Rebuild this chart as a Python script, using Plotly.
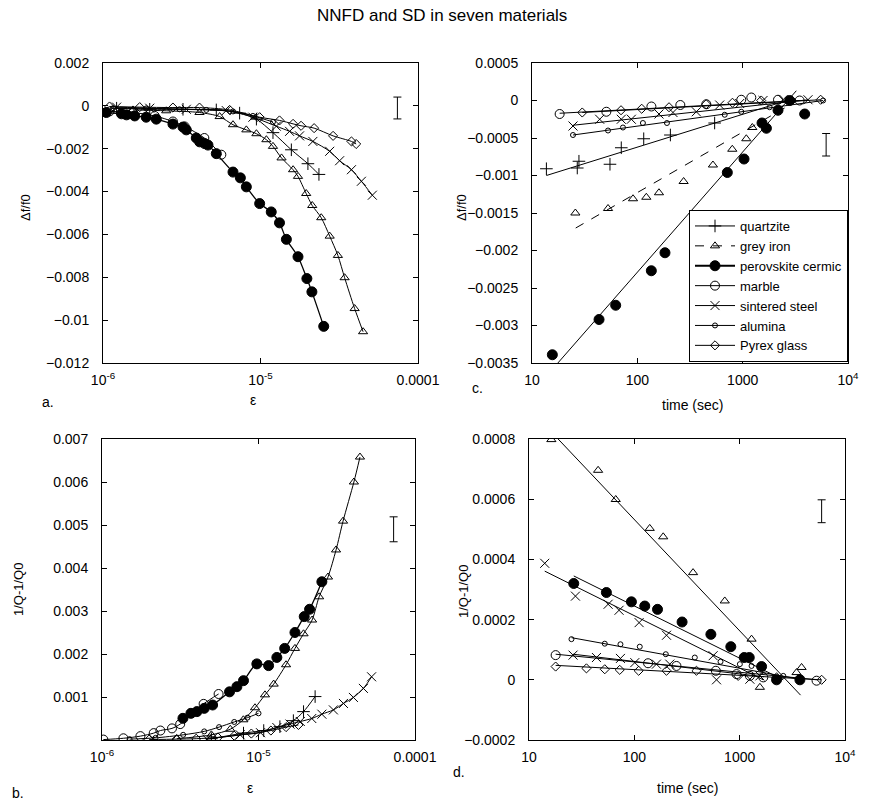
import plotly.graph_objects as go

# ---------------- Panel a : delta f / f0 vs strain ----------------
A_quartzite_eps = [1.22e-6, 1.98e-6, 3.22e-6, 5.24e-6, 7.37e-6, 9.42e-6, 1.2e-5, 1.57e-5, 2.0e-5, 2.35e-5]
A_quartzite_df = [-0.00011, -0.00016, -0.00016, -0.00019, -0.00034, -0.00062, -0.00125, -0.00205, -0.0027, -0.0032]
A_grey_eps = [1.55e-6, 2.52e-6, 4.1e-6, 5.5e-6, 6.69e-6, 8.13e-6, 9.42e-6, 1.09e-5, 1.2e-5, 1.36e-5, 1.61e-5, 1.73e-5,
              1.95e-5, 2.13e-5, 2.43e-5, 2.75e-5, 3.1e-5, 3.42e-5, 3.96e-5, 4.48e-5]
A_grey_df = [-0.00019, -0.00023, -0.00031, -0.0005, -0.00088, -0.00112, -0.0013, -0.00158, -0.00189, -0.00243, -0.00298,
             -0.00329, -0.00409, -0.00465, -0.00522, -0.00608, -0.00698, -0.00802, -0.00946, -0.01054]
A_perov_eps = [1.05e-6, 1.31e-6, 1.41e-6, 1.59e-6, 1.88e-6, 2.18e-6, 2.78e-6, 3.22e-6, 3.38e-6, 3.91e-6, 4.11e-6, 4.42e-6,
               4.64e-6, 5.24e-6, 6.69e-6, 7.45e-6, 8.13e-6, 9.88e-6, 1.17e-5, 1.32e-5, 1.46e-5, 1.73e-5, 1.97e-5, 2.12e-5, 2.52e-5]
A_perov_df = [-0.00031, -0.00037, -0.00042, -0.00047, -0.00053, -0.00062, -0.00085, -0.00099, -0.00112, -0.0015, -0.00168,
              -0.00176, -0.00183, -0.00223, -0.00309, -0.00336, -0.00378, -0.00456, -0.00495, -0.00546, -0.00623, -0.00704,
              -0.00806, -0.00868, -0.01029]
A_marble_eps = [1.1e-6, 1.55e-6, 2.13e-6, 2.78e-6, 3.3e-6, 4.4e-6, 5.64e-6]
A_marble_df = [-0.00026, -0.00031, -0.00047, -0.00073, -0.00096, -0.0015, -0.00228]
A_steel_eps = [1.22e-6, 1.98e-6, 3.38e-6, 6.06e-6, 8.95e-6, 1.26e-5, 1.53e-5, 1.77e-5, 2.15e-5, 2.75e-5, 3.18e-5, 3.78e-5,
               4.37e-5, 5.13e-5]
A_steel_df = [-0.00006, -0.00011, -0.00016, -0.00022, -0.00053, -0.00095, -0.00119, -0.0014, -0.00166, -0.00212, -0.00256,
              -0.00298, -0.00352, -0.00417]
A_alumina_eps = [1.16e-6, 1.88e-6, 3.06e-6, 4.53e-6, 6.69e-6, 8.95e-6, 1.2e-5]
A_alumina_df = [-0.00011, -0.00012, -0.00016, -0.00019, -0.00026, -0.00047, -0.00075]
A_pyrex_eps = [1.1e-6, 1.71e-6, 2.78e-6, 4.1e-6, 6.37e-6, 9.88e-6, 1.32e-5, 1.61e-5, 1.81e-5, 2.19e-5, 2.89e-5, 3.78e-5, 4.05e-5]
A_pyrex_df = [-0.00003, -0.00006, -0.00008, -0.00008, -0.00019, -0.00053, -0.00068, -0.00084, -0.00093, -0.00104, -0.0014,
              -0.00166, -0.00178]

# ---------------- Panel b : 1/Q - 1/Q0 vs strain ----------------
B_quartzite_eps = [5e-6, 8.02e-6, 1.08e-5, 1.37e-5, 1.67e-5, 1.94e-5, 2.3e-5]
B_quartzite_q = [0.00003, 0.00016, 0.00022, 0.00031, 0.00045, 0.00066, 0.00101]
B_grey_eps = [3.0e-6, 5.0e-6, 6.6e-6, 8.0e-6, 9.5e-6, 1.1e-5, 1.25e-5, 1.5e-5, 1.71e-5, 1.94e-5, 2.2e-5, 2.44e-5, 2.78e-5,
              3.13e-5, 3.47e-5, 4.07e-5, 4.45e-5]
B_grey_q = [0.00003, 0.00012, 0.00025, 0.00047, 0.00075, 0.00105, 0.0013, 0.00175, 0.00213, 0.00247, 0.00279, 0.00333,
            0.00379, 0.00442, 0.00509, 0.006, 0.00658]
B_perov_eps = [3.29e-6, 3.7e-6, 4.04e-6, 4.5e-6, 5.09e-6, 6.53e-6, 7.28e-6, 8.02e-6, 9.76e-6, 1.16e-5, 1.31e-5, 1.47e-5,
               1.71e-5, 1.96e-5, 2.12e-5, 2.54e-5]
B_perov_q = [0.000504, 0.00062, 0.00066, 0.000736, 0.000814, 0.00112, 0.00124, 0.00138, 0.00177, 0.00173, 0.00192, 0.00213,
             0.0025, 0.00287, 0.00304, 0.00368]
B_marble_eps = [1.02e-6, 1.37e-6, 1.76e-6, 2.14e-6, 2.36e-6, 2.8e-6, 3.16e-6, 4.46e-6, 5.56e-6]
B_marble_q = [0.00001, 0.00004, 0.00009, 0.00016, 0.00022, 0.00027, 0.00037, 0.00084, 0.00107]
B_steel_eps = [4.68e-6, 7.64e-6, 1.03e-5, 1.31e-5, 1.59e-5, 1.85e-5, 2.19e-5, 2.54e-5, 3.01e-5, 3.49e-5, 4.04e-5, 4.68e-5, 5.28e-5]
B_steel_q = [0.00002, 0.00012, 0.00017, 0.00029, 0.00037, 0.00043, 0.0005, 0.0006, 0.0007, 0.00085, 0.00099, 0.0012, 0.00147]
B_alumina_eps = [1.5e-6, 2.2e-6, 3.3e-6, 4.5e-6, 5.6e-6, 7e-6, 8.5e-6, 1.0e-5]
B_alumina_q = [0.00002, 0.00005, 0.00012, 0.0002, 0.0003, 0.00042, 0.00052, 0.00062]
B_pyrex_eps = [2e-6, 3e-6, 4e-6, 5.5e-6, 7e-6, 9e-6, 1.2e-5, 1.5e-5, 1.8e-5]
B_pyrex_q = [0.00001, 0.00002, 0.00003, 0.00006, 0.0001, 0.00015, 0.00022, 0.0003, 0.00035]

# ---------------- Panel c : delta f / f0 vs time ----------------
C_quartzite_t = [13.7, 26.9, 27.9, 55, 70.4, 115, 206, 542]
C_quartzite_df = [-0.00091, -0.0009, -0.00081, -0.00085, -0.00063, -0.00051, -0.00046, -0.0003]
C_quartzite_fit_t = [13.7, 2250]
C_quartzite_fit_df = [-0.001, -0.00003]
C_grey_t = [25.8, 52.7, 91, 121.7, 160.5, 275, 522, 797, 1083, 1235]
C_grey_df = [-0.0015, -0.00144, -0.00131, -0.00129, -0.00123, -0.00108, -0.00086, -0.00065, -0.00051, -0.00036]
C_grey_fit_t = [26, 2500]
C_grey_fit_df = [-0.0017, -0.0001]
C_perov_t = [15.6, 43.3, 62.3, 135.8, 183, 355, 715, 1030, 1527, 1680, 2165, 2794, 3880]
C_perov_df = [-0.00339, -0.00292, -0.00273, -0.00227, -0.00203, -0.00155, -0.00096, -0.00078, -0.0003, -0.00037, -0.00013, 0.0,
              -0.00018]
C_perov_fit_t = [17.6, 3230]
C_perov_fit_df = [-0.0035, 0.00013]
C_marble_t = [18.3, 50.8, 136, 256, 452, 970, 1208, 2165, 3474]
C_marble_df = [-0.00018, -0.00015, -0.00008, -0.00006, -0.00005, 0.00001, 0.00004, 0.00001, 0.0]
C_marble_fit_t = [18.3, 3500]
C_marble_fit_df = [-0.00017, 0.0]
C_steel_t = [24.5, 43.9, 70.4, 87.7, 160.5, 218, 363, 605, 937, 1560, 2415, 4170]
C_steel_df = [-0.00034, -0.00025, -0.00025, -0.00025, -0.00018, -0.00016, -0.00015, -0.00006, -0.00004, 0.0, 0.00001, 0.00001]
C_steel_fit_t = [24.5, 4200]
C_steel_fit_df = [-0.00033, 0.00001]
C_alumina_t = [24.5, 52.7, 73, 113, 191, 675, 970, 1804, 3006, 5800]
C_alumina_df = [-0.00046, -0.0004, -0.00036, -0.0003, -0.0003, -0.00019, -0.00015, -0.00009, 0.0, 0.0]
C_alumina_fit_t = [24.5, 5800]
C_alumina_fit_df = [-0.00046, 0.0]
C_pyrex_t = [30, 70, 110, 200, 450, 800, 1500, 5500]
C_pyrex_df = [-0.00016, -0.00013, -0.00011, -0.00009, -0.00005, -0.00003, 0.0, 0.00001]
C_pyrex_fit_t = [30, 5500]
C_pyrex_fit_df = [-0.00016, 0.00001]

# ---------------- Panel d : 1/Q - 1/Q0 vs time ----------------
D_grey_t = [16.3, 45.3, 66.6, 140, 188, 361, 722, 1297, 1556, 3467, 3870]
D_grey_q = [0.000798, 0.000696, 0.000599, 0.000503, 0.000475, 0.000356, 0.000262, 0.000135, -0.000025, 0.000024, 0.000041]
D_grey_fit_t = [18.9, 3786]
D_grey_fit_q = [0.0008, -0.000051]
D_perov_t = [26.6, 54.3, 93.8, 125.6, 166, 284, 533, 824, 1104, 1233, 1615, 2240, 3730]
D_perov_q = [0.00032, 0.00029, 0.000259, 0.000245, 0.000234, 0.000192, 0.000151, 0.00011, 0.000074, 0.000074, 0.000044,
             0.0, 0.0]
D_perov_fit_t = [26.6, 2594]
D_perov_fit_q = [0.000345, 0.0]
D_steel_t = [14.1, 27.6, 56.4, 71.6, 111, 202, 560, 603, 1250]
D_steel_q = [0.000387, 0.000278, 0.000251, 0.000231, 0.00019, 0.000148, 0.00008, 0.0, 0.000002]
D_steel_fit_t = [14.1, 1675]
D_steel_fit_q = [0.000361, 0.0]
D_steel2_t = [26.2, 43.7, 73.8, 101, 162, 217, 1556]
D_steel2_q = [0.000082, 0.000074, 0.000071, 0.000057, 0.000052, 0.000052, 0.000013]
D_steel2_fit_t = [26.2, 1700]
D_steel2_fit_q = [0.000085, 0.00001]
D_alumina_t = [25.3, 52.4, 73.8, 112.6, 199, 375, 658, 1004, 1297, 2594]
D_alumina_q = [0.000135, 0.00012, 0.000118, 0.00011, 0.000085, 0.000074, 0.00006, 0.000052, 0.000046, 0.000013]
D_alumina_fit_t = [25.3, 4000]
D_alumina_fit_q = [0.00014, 0.0]
D_marble_t = [17.9, 135, 251, 594, 934, 1250, 1675, 5370]
D_marble_q = [0.000082, 0.000055, 0.000046, 0.00003, 0.000019, 0.000013, 0.000008, -0.000003]
D_marble_fit_t = [17.9, 5400]
D_marble_fit_q = [0.000085, 0.0]
D_pyrex_t = [17.9, 35.1, 52.4, 72.7, 110, 202, 389, 968, 2240, 6000]
D_pyrex_q = [0.000044, 0.000038, 0.000035, 0.000033, 0.00003, 0.00003, 0.00003, 0.000013, 0.000008, 0.0]
D_pyrex_fit_t = [17.9, 6000]
D_pyrex_fit_q = [0.000048, 0.0]

# ---------------- Error-bar size indicators (x, centre, half-height) ----------------
ERR_A = [7.4e-5, -0.0001, 0.00051]
ERR_B = [7.3e-5, 0.0049, 0.00029]
ERR_C = [6200, -0.00059, 0.00015]
ERR_D = [6000, 0.00056, 0.000038]

# ---------------- Tick labels ----------------
EPS_TICKS = [1e-6, 1e-5, 1e-4]
EPS_TEXT = ["10<sup>-6</sup>", "10<sup>-5</sup>", "0.0001"]
T_TICKS = [10, 100, 1000, 10000]
T_TEXT = ["10", "100", "1000", "10<sup>4</sup>"]
A_YTICKS = [0.002, 0, -0.002, -0.004, -0.006, -0.008, -0.01, -0.012]
A_YTEXT = ["0.002", "0", "\u22120.002", "\u22120.004", "\u22120.006", "\u22120.008", "\u22120.01", "\u22120.012"]
B_YTICKS = [0.001, 0.002, 0.003, 0.004, 0.005, 0.006, 0.007]
B_YTEXT = ["0.001", "0.002", "0.003", "0.004", "0.005", "0.006", "0.007"]
C_YTICKS = [0.0005, 0, -0.0005, -0.001, -0.0015, -0.002, -0.0025, -0.003, -0.0035]
C_YTEXT = ["0.0005", "0", "\u22120.0005", "\u22120.001", "\u22120.0015", "\u22120.002", "\u22120.0025", "\u22120.003",
           "\u22120.0035"]
D_YTICKS = [0.0008, 0.0006, 0.0004, 0.0002, 0, -0.0002]
D_YTEXT = ["0.0008", "0.0006", "0.0004", "0.0002", "0", "\u22120.0002"]

NAMES = ["quartzite", "grey iron", "perovskite cermic", "marble", "sintered steel", "alumina", "Pyrex glass"]

STYLE = {
    "quartzite": dict(symbol="cross-thin-open", size=9, lw=1),
    "grey iron": dict(symbol="triangle-up-open", size=8, lw=1),
    "perovskite cermic": dict(symbol="circle", size=10, lw=1.3),
    "marble": dict(symbol="circle-open", size=9, lw=1),
    "sintered steel": dict(symbol="x-thin-open", size=9, lw=1),
    "alumina": dict(symbol="circle-open", size=5, lw=1),
    "Pyrex glass": dict(symbol="diamond-open", size=7, lw=1),
}

fig = go.Figure()


def marker(name):
    s = STYLE[name]
    return dict(symbol=s["symbol"], size=s["size"], color="black", line=dict(color="black", width=1))


def smooth_series(name, x, y, xa, ya):
    s = STYLE[name]
    fig.add_trace(go.Scatter(x=x, y=y, mode="lines+markers", name=name, showlegend=False,
                             line=dict(color="black", width=s["lw"], shape="spline", smoothing=0.8),
                             marker=marker(name), xaxis=xa, yaxis=ya))


def fit_series(name, x, y, fx, fy, xa, ya, dash="solid"):
    fig.add_trace(go.Scatter(x=fx, y=fy, mode="lines", showlegend=False, name=name,
                             line=dict(color="black", width=1, dash=dash), xaxis=xa, yaxis=ya))
    fig.add_trace(go.Scatter(x=x, y=y, mode="markers", showlegend=False, name=name,
                             marker=marker(name), xaxis=xa, yaxis=ya))


def err_indicator(e, xa, ya):
    fig.add_trace(go.Scatter(x=[e[0]], y=[e[1]], mode="markers", showlegend=False, hoverinfo="skip",
                             marker=dict(size=0.1, color="black"),
                             error_y=dict(type="data", array=[e[2]], color="black", thickness=1, width=4),
                             xaxis=xa, yaxis=ya))


# panel a (x, y)
for nm, xs, ys in [("quartzite", A_quartzite_eps, A_quartzite_df), ("grey iron", A_grey_eps, A_grey_df),
                   ("perovskite cermic", A_perov_eps, A_perov_df), ("marble", A_marble_eps, A_marble_df),
                   ("sintered steel", A_steel_eps, A_steel_df), ("alumina", A_alumina_eps, A_alumina_df),
                   ("Pyrex glass", A_pyrex_eps, A_pyrex_df)]:
    smooth_series(nm, xs, ys, "x", "y")
err_indicator(ERR_A, "x", "y")

# panel c (x2, y2)
fit_series("quartzite", C_quartzite_t, C_quartzite_df, C_quartzite_fit_t, C_quartzite_fit_df, "x2", "y2")
fit_series("grey iron", C_grey_t, C_grey_df, C_grey_fit_t, C_grey_fit_df, "x2", "y2", dash="dash")
fit_series("perovskite cermic", C_perov_t, C_perov_df, C_perov_fit_t, C_perov_fit_df, "x2", "y2")
fit_series("marble", C_marble_t, C_marble_df, C_marble_fit_t, C_marble_fit_df, "x2", "y2")
fit_series("sintered steel", C_steel_t, C_steel_df, C_steel_fit_t, C_steel_fit_df, "x2", "y2")
fit_series("alumina", C_alumina_t, C_alumina_df, C_alumina_fit_t, C_alumina_fit_df, "x2", "y2")
fit_series("Pyrex glass", C_pyrex_t, C_pyrex_df, C_pyrex_fit_t, C_pyrex_fit_df, "x2", "y2")
err_indicator(ERR_C, "x2", "y2")

# panel b (x3, y3)
for nm, xs, ys in [("quartzite", B_quartzite_eps, B_quartzite_q), ("grey iron", B_grey_eps, B_grey_q),
                   ("perovskite cermic", B_perov_eps, B_perov_q), ("marble", B_marble_eps, B_marble_q),
                   ("sintered steel", B_steel_eps, B_steel_q), ("alumina", B_alumina_eps, B_alumina_q),
                   ("Pyrex glass", B_pyrex_eps, B_pyrex_q)]:
    smooth_series(nm, xs, ys, "x3", "y3")
err_indicator(ERR_B, "x3", "y3")

# panel d (x4, y4)
fit_series("grey iron", D_grey_t, D_grey_q, D_grey_fit_t, D_grey_fit_q, "x4", "y4")
fit_series("perovskite cermic", D_perov_t, D_perov_q, D_perov_fit_t, D_perov_fit_q, "x4", "y4")
fit_series("sintered steel", D_steel_t, D_steel_q, D_steel_fit_t, D_steel_fit_q, "x4", "y4")
fit_series("sintered steel", D_steel2_t, D_steel2_q, D_steel2_fit_t, D_steel2_fit_q, "x4", "y4")
fit_series("alumina", D_alumina_t, D_alumina_q, D_alumina_fit_t, D_alumina_fit_q, "x4", "y4")
fit_series("marble", D_marble_t, D_marble_q, D_marble_fit_t, D_marble_fit_q, "x4", "y4")
fit_series("Pyrex glass", D_pyrex_t, D_pyrex_q, D_pyrex_fit_t, D_pyrex_fit_q, "x4", "y4")
err_indicator(ERR_D, "x4", "y4")

# legend keys
for nm in NAMES:
    s = STYLE[nm]
    fig.add_trace(go.Scatter(x=[None], y=[None], mode="lines+markers", name=nm, showlegend=True,
                             line=dict(color="black", width=2.2 if nm == "perovskite cermic" else 1,
                                       dash="dash" if nm == "grey iron" else "solid"),
                             marker=marker(nm), xaxis="x2", yaxis="y2"))

W, H = 869, 805
FONT = "Liberation Sans, Arial, Helvetica, sans-serif"


def px_x(p):
    return p / W


def px_y(p):
    return 1 - p / H


def xaxis(domain, rng, tv, tt):
    return dict(domain=domain, type="log", range=rng, tickvals=tv, ticktext=tt, ticks="inside", ticklen=5,
                showline=True, linecolor="black", linewidth=1, mirror="ticks", showgrid=False, zeroline=False,
                tickfont=dict(size=14, color="black"), automargin=False, tickcolor="black", ticklabelstandoff=4)


def yaxis(domain, rng, tv, tt, anchor):
    return dict(domain=domain, range=rng, tickvals=tv, ticktext=tt, ticks="inside", ticklen=5, anchor=anchor,
                showline=True, linecolor="black", linewidth=1, mirror="ticks", showgrid=False, zeroline=False,
                tickfont=dict(size=14, color="black"), automargin=False, tickcolor="black", ticklabelstandoff=10)


top_dom = [px_y(363), px_y(63)]
bot_dom = [px_y(740), px_y(439)]

fig.update_layout(
    width=W, height=H,
    margin=dict(l=0, r=0, t=0, b=0),
    paper_bgcolor="white", plot_bgcolor="white",
    font=dict(family=FONT, color="black", size=13),
    xaxis=dict(xaxis([px_x(103), px_x(418)], [-6, -4], EPS_TICKS, EPS_TEXT), anchor="y"),
    yaxis=yaxis(top_dom, [-0.012, 0.002], A_YTICKS, A_YTEXT, "x"),
    xaxis2=dict(xaxis([px_x(532), px_x(848)], [1, 4], T_TICKS, T_TEXT), anchor="y2"),
    yaxis2=yaxis(top_dom, [-0.0035, 0.0005], C_YTICKS, C_YTEXT, "x2"),
    xaxis3=dict(xaxis([px_x(102), px_x(415)], [-6, -4], EPS_TICKS, EPS_TEXT), anchor="y3"),
    yaxis3=yaxis(bot_dom, [0, 0.007], B_YTICKS, B_YTEXT, "x3"),
    xaxis4=dict(xaxis([px_x(529), px_x(845)], [1, 4], T_TICKS, T_TEXT), anchor="y4"),
    yaxis4=yaxis(bot_dom, [-0.0002, 0.0008], D_YTICKS, D_YTEXT, "x4"),
    legend=dict(x=px_x(848), y=px_y(362), xanchor="right", yanchor="bottom", bgcolor="white",
                bordercolor="black", borderwidth=1, font=dict(size=13, color="black"), tracegroupgap=0,
                itemwidth=40),
    showlegend=True,
)

ann = []


def text(x, y, s, size=13, angle=0):
    ann.append(dict(x=px_x(x), y=px_y(y), xref="paper", yref="paper", text=s, showarrow=False,
                    font=dict(size=size, color="black", family=FONT), textangle=angle, xanchor="center",
                    yanchor="middle"))


text(442, 15, "NNFD and SD in seven materials", size=17)
text(48, 402, "a.", size=14)
text(18, 793, "b.", size=14)
text(478, 388, "c.", size=14)
text(459, 772, "d.", size=14)
text(253, 400, "\u03b5", size=14)
text(250, 788, "\u03b5", size=14)
text(692, 405, "time (sec)", size=14)
text(687, 788, "time (sec)", size=14)
text(25, 208, "\u0394f/f0", angle=-90)
text(462, 207, "\u0394f/f0", angle=-90)
text(18, 590, "1/Q-1/Q0", angle=-90)
text(463, 592, "1/Q-1/Q0", angle=-90)
fig.update_layout(annotations=ann)

fig.write_html("out.html")
